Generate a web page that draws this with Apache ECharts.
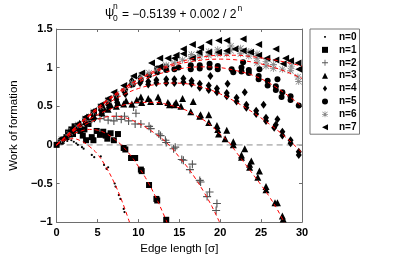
<!DOCTYPE html>
<html><head><meta charset="utf-8">
<script src="https://cdn.jsdelivr.net/npm/echarts@6/dist/echarts.min.js"></script>
<style>html,body{margin:0;padding:0;background:#fff}#c{width:399px;height:260px}</style>
</head><body><div id="c"></div>
<script>
// ---------- data ----------
const seriesNames = ['n=0','n=1','n=2','n=3','n=4','n=5','n=6','n=7'];
const xTicks = [0, 5, 10, 15, 20, 25, 30];
const yTicks = [-1, -0.5, 0, 0.5, 1, 1.5];
const zeroLine = [[0, 0], [30, 0]];

const pts0 = [[0.2,0.01],[0.6,0.04],[1.0,0.06],[1.3,0.05],[1.8,0.06],[2.1,0.04],[2.4,0.02],[2.6,0.0],[3.1,-0.03],[3.3,-0.05],[4.3,-0.13],[4.6,-0.16],[5.4,-0.15],[5.8,-0.26],[6.1,-0.31],[6.3,-0.29],[7.1,-0.5],[7.2,-0.54],[7.6,-0.65],[7.8,-0.7],[8.2,-0.83],[8.3,-0.87]];
const pts1 = [[0,0],[0.5,0.04],[1.2,0.1],[1.4,0.16],[1.8,0.2],[2.0,0.14],[2.2,0.24],[2.9,0.18],[3.2,0.12],[3.4,0.2],[3.6,0.06],[3.9,0.27],[4.3,0.1],[4.5,0.06],[4.9,0.18],[5.3,0.13],[5.7,0.17],[6.0,0.12],[6.2,0.08],[6.6,0.15],[7.0,0.06],[7.5,0.14],[8.2,-0.04],[8.4,-0.06],[9.1,-0.17],[9.6,-0.17],[10.3,-0.32],[10.4,-0.34],[11.3,-0.52],[12.2,-0.7],[12.3,-0.72],[13.4,-0.97]];
const pts2 = [[0.5,0.05],[1.5,0.13],[2.5,0.2],[3.8,0.29],[4.3,0.33],[5.3,0.34],[5.8,0.37],[6.3,0.32],[7.0,0.31],[7.3,0.37],[7.9,0.33],[8.3,0.37],[8.8,0.31],[9.4,0.49],[9.6,0.27],[9.7,0.41],[10.3,0.27],[11.3,0.24],[11.5,0.21],[12.5,0.14],[12.7,0.12],[13.3,0.06],[13.4,0.03],[14.3,-0.05],[14.5,-0.03],[15.3,-0.19],[15.5,-0.2],[16.3,-0.32],[16.6,-0.25],[17.5,-0.46],[17.6,-0.48],[18.4,-0.67],[18.7,-0.61],[19.5,-0.85],[19.6,-0.76]];
const pts3 = [[0.6,0.06],[1.6,0.14],[2.6,0.22],[2.8,0.28],[3.5,0.3],[3.7,0.36],[4.4,0.36],[4.6,0.42],[5.5,0.42],[5.8,0.47],[6.3,0.46],[6.6,0.52],[7.3,0.5],[7.5,0.55],[8.2,0.53],[8.5,0.57],[9.2,0.53],[9.8,0.58],[10.3,0.62],[10.4,0.55],[11.2,0.6],[11.5,0.56],[12.4,0.62],[12.6,0.56],[13.6,0.55],[13.8,0.52],[14.4,0.52],[14.6,0.55],[15.2,0.5],[15.4,0.6],[16.4,0.43],[16.7,0.56],[17.5,0.37],[17.6,0.39],[18.6,0.39],[18.6,0.29],[19.6,0.25],[19.7,0.2],[19.8,0.14],[20.6,0.08],[20.8,0.19],[21.6,0.04],[21.6,0.0],[22.6,-0.13],[22.6,-0.16],[23.0,-0.05],[23.6,-0.25],[23.6,-0.29],[23.8,-0.21],[24.6,-0.42],[24.8,-0.34],[25.6,-0.54],[25.6,-0.58],[26.7,-0.75],[27.0,-0.75],[27.6,-0.92],[27.7,-0.96]];
const pts4 = [[0.6,0.06],[1.6,0.15],[2.6,0.24],[2.7,0.2],[3.5,0.31],[3.6,0.27],[4.5,0.38],[4.6,0.34],[5.4,0.45],[5.5,0.41],[6.3,0.52],[6.4,0.48],[7.3,0.59],[7.4,0.55],[8.4,0.66],[8.4,0.72],[9.1,0.78],[9.2,0.83],[10.2,0.8],[10.2,0.87],[11.2,0.78],[11.2,0.82],[12.2,0.8],[12.2,0.84],[13.4,0.8],[13.4,0.85],[14.4,0.8],[14.4,0.85],[15.5,0.81],[15.5,0.86],[16.5,0.79],[16.5,0.83],[17.5,0.74],[17.5,0.79],[18.6,0.71],[18.6,0.77],[18.8,0.89],[19.6,0.68],[19.6,0.73],[20.8,0.63],[20.8,0.67],[20.9,0.79],[22.0,0.56],[22.0,0.61],[23.0,0.68],[23.2,0.48],[23.2,0.52],[24.4,0.4],[24.4,0.44],[25.3,0.52],[25.6,0.31],[25.6,0.35],[26.6,0.22],[26.8,0.26],[27.0,0.33],[27.6,0.12],[27.6,0.17],[28.6,0.02],[28.6,0.06],[29.6,-0.09],[29.6,-0.13]];
const pts5 = [[0.6,0.07],[1.6,0.16],[2.6,0.25],[3.5,0.33],[4.5,0.41],[5.4,0.49],[6.3,0.56],[7.3,0.64],[8.3,0.7],[9.3,0.78],[10.3,0.84],[11.3,0.9],[12.3,0.94],[12.3,0.99],[13.4,0.97],[13.4,1.01],[14.4,0.98],[14.9,1.0],[16.4,0.98],[16.4,1.03],[17.5,0.99],[17.5,1.03],[18.7,1.0],[18.7,1.05],[19.7,0.98],[19.7,1.02],[21.4,0.98],[21.6,0.94],[22.6,0.95],[22.6,1.0],[22.8,1.07],[23.5,0.93],[23.5,0.97],[24.7,0.85],[24.7,0.89],[24.8,0.98],[25.8,0.77],[25.8,0.83],[26.8,0.71],[26.8,0.76],[27.0,0.85],[27.5,0.62],[27.6,0.68],[28.6,0.58],[28.6,0.63],[29.6,0.51]];
const pts6 = [[0.6,0.07],[1.6,0.17],[2.6,0.26],[3.5,0.34],[4.5,0.43],[5.4,0.5],[6.3,0.58],[7.3,0.66],[8.3,0.73],[9.3,0.8],[10.3,0.87],[11.3,0.93],[12.3,0.98],[13.4,1.03],[14.4,1.06],[15.4,1.1],[16.4,1.12],[16.5,1.17],[17.5,1.14],[17.5,1.19],[18.6,1.16],[18.6,1.21],[19.7,1.18],[19.7,1.23],[20.8,1.18],[21.3,1.22],[21.3,1.28],[22.5,1.18],[22.5,1.25],[23.5,1.15],[23.5,1.21],[24.5,1.06],[24.5,1.12],[24.5,1.18],[25.6,1.02],[25.6,1.08],[26.5,0.99],[26.5,1.04],[27.6,0.98],[28.6,0.96],[28.7,1.02],[29.5,0.88],[29.6,0.82]];
const pts7 = [[0.6,0.08],[1.6,0.18],[2.6,0.27],[3.5,0.36],[4.5,0.44],[5.4,0.52],[6.3,0.6],[7.0,0.68],[8.2,0.77],[9.4,0.89],[10.4,0.93],[11.6,1.06],[12.6,1.01],[12.6,1.12],[13.6,1.12],[14.4,1.12],[14.6,1.16],[15.5,1.18],[15.5,1.24],[16.6,1.12],[16.6,1.3],[17.4,1.2],[17.6,1.26],[18.6,1.2],[18.6,1.33],[19.8,1.2],[19.8,1.35],[20.8,1.22],[20.8,1.35],[21.8,1.24],[22.8,1.22],[22.8,1.37],[23.7,1.2],[24.7,1.16],[24.7,1.3],[25.7,1.12],[26.8,1.1],[26.8,1.24],[27.7,1.05],[28.0,1.12],[28.6,1.09],[29.5,1.06],[29.6,0.98]];

const fit0 = [[0,0],[1,0.06],[2,0.08],[3,0.05],[4,-0.02],[5,-0.12],[6,-0.28],[7,-0.48],[8,-0.73],[9,-1.03]];
const fit1 = [[0,0],[1,0.08],[2,0.14],[3,0.18],[4,0.2],[5,0.19],[6,0.15],[7,0.08],[8,-0.01],[9,-0.13],[10,-0.28],[11,-0.45],[12,-0.65],[13,-0.88],[13.6,-1.03]];
const fit2 = [[0,0],[2,0.17],[4,0.29],[6,0.36],[7,0.37],[8,0.36],[9,0.33],[10,0.28],[11,0.22],[12,0.15],[13,0.07],[14,-0.03],[15,-0.16],[16,-0.29],[17,-0.44],[18,-0.61],[19,-0.8],[20,-1.02]];
const fit3 = [[0,0],[2,0.18],[4,0.33],[6,0.44],[8,0.51],[10,0.55],[12,0.55],[14,0.51],[15,0.48],[16,0.44],[17,0.38],[18,0.32],[19,0.24],[20,0.14],[21,0.04],[22,-0.1],[23,-0.24],[24,-0.38],[25,-0.52],[26,-0.67],[27,-0.84],[27.9,-1.02]];
const fit4 = [[0,0],[2,0.19],[4,0.37],[6,0.52],[8,0.64],[10,0.73],[12,0.78],[14,0.8],[16,0.79],[18,0.74],[20,0.66],[22,0.55],[24,0.42],[26,0.27],[28,0.1],[30,-0.1]];
const fit5 = [[0,0],[2,0.19],[4,0.38],[6,0.55],[8,0.69],[10,0.81],[12,0.9],[14,0.96],[16,1.0],[18,1.01],[20,1.0],[22,0.96],[24,0.9],[26,0.8],[28,0.66],[30,0.5]];
const fit6 = [[0,0],[2,0.2],[4,0.39],[6,0.56],[8,0.71],[10,0.84],[12,0.94],[14,1.02],[16,1.07],[18,1.1],[20,1.11],[22,1.1],[24,1.07],[26,1.02],[28,0.95],[30,0.86]];
const fit7 = [[0,0],[2,0.2],[4,0.39],[6,0.57],[8,0.72],[10,0.85],[12,0.96],[14,1.04],[16,1.1],[18,1.14],[20,1.16],[22,1.16],[24,1.14],[26,1.11],[28,1.07],[30,1.02]];

// ---------- styles ----------
const FONT = '"Liberation Sans", Arial, Helvetica, sans-serif';
const allPts = [pts0, pts1, pts2, pts3, pts4, pts5, pts6, pts7];
const allFits = [fit0, fit1, fit2, fit3, fit4, fit5, fit6, fit7];
const PLUS = 'path://M4.3,0 L5.7,0 L5.7,4.3 L10,4.3 L10,5.7 L5.7,5.7 L5.7,10 L4.3,10 L4.3,5.7 L0,5.7 L0,4.3 L4.3,4.3 Z';
const STAR = 'path://M4.4,0 L5.6,0 L5.6,10 L4.4,10 Z M0,4.4 L10,4.4 L10,5.6 L0,5.6 Z M1.2,0.4 L9.6,8.8 L8.8,9.6 L0.4,1.2 Z M8.8,0.4 L9.6,1.2 L1.2,9.6 L0.4,8.8 Z';
const LTRI = 'path://M0,5 L10,0 L10,10 Z';
const DOT_LEG = 'path://M0,0 M10,10 M3.6,3.6 L6.4,3.6 L6.4,6.4 L3.6,6.4 Z';
const DIA_LEG = 'path://M5,0 L8.5,5 L5,10 L1.5,5 Z';
const markers = [
  {symbol:'circle', size:2.2, color:'#000', leg: DOT_LEG},
  {symbol:'rect', size:6, color:'#000', leg:'rect'},
  {symbol:PLUS, size:8, color:'#555', leg:PLUS},
  {symbol:'triangle', size:7, color:'#000', leg:'triangle'},
  {symbol:'diamond', size:[6,8], color:'#000', leg:DIA_LEG},
  {symbol:'circle', size:6, color:'#000', leg:'circle'},
  {symbol:STAR, size:7, color:'#8a8a8a', leg:STAR},
  {symbol:LTRI, size:7, color:'#000', leg:LTRI}
];

const series = [];
series.push({
  type:'line', data: zeroLine, symbol:'none', silent:true, z:1,
  lineStyle:{color:'#bdbdbd', width:1.6, type:[6,4]}
});
seriesNames.forEach((name, i) => {
  series.push({
    name, type:'scatter', data: allPts[i], symbol: markers[i].symbol,
    symbolSize: markers[i].size, itemStyle:{color: markers[i].color, opacity:1},
    z: 2 + i, animation:false
  });
});
allFits.forEach((f, i) => {
  series.push({
    type:'line', data: f, smooth: 0.4, symbol:'none', silent:true, z:20,
    lineStyle:{color:'#ff0000', width:1, type:[4,3]}
  });
});

const axisCommon = {
  axisLine:{show:true, onZero:false, lineStyle:{color:'#6e6e6e', width:1}},
  axisTick:{show:true, inside:true, length:3, lineStyle:{color:'#6e6e6e'}},
  splitLine:{show:false}
};
const fmt = v => String(v).replace('-', '\u2212');

const chart = echarts.init(document.getElementById('c'), null, {renderer:'canvas'});
chart.setOption({
  animation:false,
  backgroundColor:'#fff',
  grid:{left:52, right:97, top:29, bottom:30, containLabel:false},
  xAxis:[
    Object.assign({type:'value', position:'bottom', min:xTicks[0], max:xTicks[xTicks.length-1], interval:xTicks[1]-xTicks[0],
      name:'Edge length [\u03c3]', nameLocation:'middle', nameGap:19,
      nameTextStyle:{fontFamily:FONT, fontSize:11.5, color:'#000'},
      axisLabel:{margin:5, fontFamily:FONT, fontSize:11, fontWeight:'bold', color:'#000', formatter:fmt}}, axisCommon),
    Object.assign({type:'value', position:'top', min:xTicks[0], max:xTicks[xTicks.length-1], interval:xTicks[1]-xTicks[0],
      axisLabel:{show:false}}, axisCommon)
  ],
  yAxis:[
    Object.assign({type:'value', position:'left', min:yTicks[0], max:yTicks[yTicks.length-1], interval:yTicks[1]-yTicks[0],
      name:'Work of formation', nameLocation:'middle', nameGap:24,
      nameTextStyle:{fontFamily:FONT, fontSize:11.5, color:'#000'},
      axisLabel:{margin:4, fontFamily:FONT, fontSize:11, fontWeight:'bold', color:'#000', formatter:fmt}}, axisCommon),
    Object.assign({type:'value', position:'right', min:yTicks[0], max:yTicks[yTicks.length-1], interval:yTicks[1]-yTicks[0],
      axisLabel:{show:false}}, axisCommon)
  ],
  legend:{
    orient:'vertical', left:310, top:29, padding:[1.5,3,0.5,12],
    itemWidth:6, itemHeight:6, itemGap:0, selectedMode:false,
    backgroundColor:'#fff', borderColor:'#777', borderWidth:1, borderRadius:0,
    textStyle:{fontFamily:FONT, fontSize:10, fontWeight:'bold', color:'#000', lineHeight:12.9, padding:[0,0,0,6]},
    data: seriesNames.map((n, i) => ({name:n, icon: markers[i].leg}))
  },
  graphic:[
    {type:'text', x:105, y:12.5, style:{text:'\u03c8', font:'13px ' + FONT, fill:'#000', verticalAlign:'middle'}},
    {type:'text', x:113, y:6.5, style:{text:'n', font:'8.5px ' + FONT, fill:'#000', verticalAlign:'middle'}},
    {type:'text', x:113, y:18.5, style:{text:'0', font:'8.5px ' + FONT, fill:'#000', verticalAlign:'middle'}},
    {type:'text', x:122, y:12.5, style:{
      text:'{m|= \u22120.5139 + 0.002 / 2}{s|n}', verticalAlign:'middle', fill:'#000',
      rich:{ m:{fontFamily:FONT, fontSize:12, lineHeight:16, verticalAlign:'bottom'},
             s:{fontFamily:FONT, fontSize:8.5, lineHeight:16, verticalAlign:'top', padding:[0,0,0,1]} }
    }}
  ],
  series
});
</script></body></html>
